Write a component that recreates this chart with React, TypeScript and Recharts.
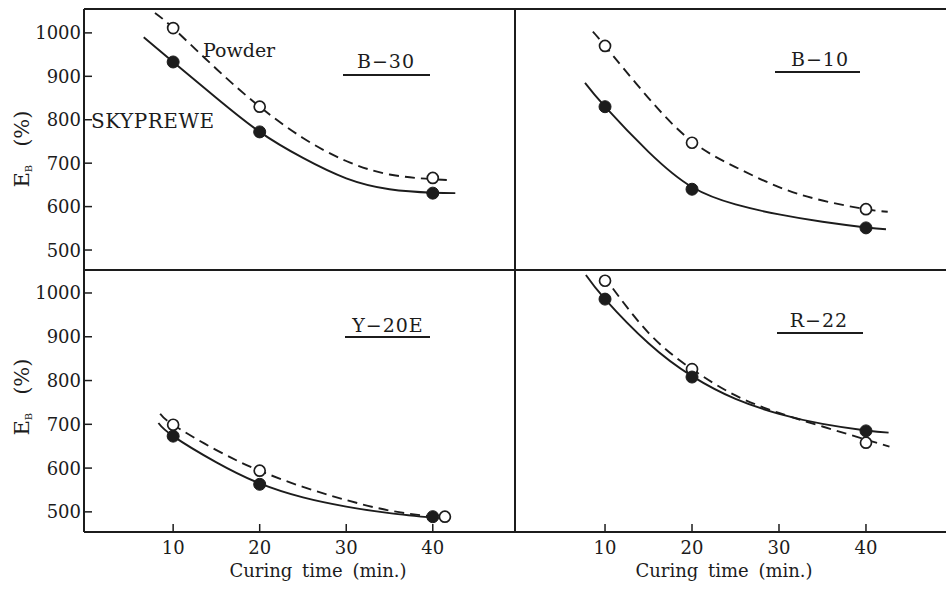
import React from 'react';
import { ComposedChart, Line, Scatter, XAxis, YAxis, ReferenceLine } from 'recharts';

const INK = '#1c1c1c';
const FONT = '"DejaVu Serif", "Liberation Serif", serif';

const xTicks = [10, 20, 30, 40];
const yTicks = [500, 600, 700, 800, 900, 1000];

// ---- B-30 ----
const b30SkyCurve = [
  { x: 6.6, y: 990 }, { x: 10, y: 933 }, { x: 15, y: 850 }, { x: 20, y: 772 },
  { x: 25, y: 712 }, { x: 30, y: 665 }, { x: 35, y: 640 }, { x: 40, y: 632 }, { x: 42.6, y: 631 },
];
const b30PowderCurve = [
  { x: 7.9, y: 1046 }, { x: 10, y: 1011 }, { x: 15, y: 917 }, { x: 20, y: 830 },
  { x: 25, y: 758 }, { x: 30, y: 705 }, { x: 35, y: 674 }, { x: 40, y: 663 }, { x: 42.2, y: 661 },
];
const b30SkyPoints = [{ x: 10, y: 933 }, { x: 20, y: 772 }, { x: 40, y: 631 }];
const b30PowderPoints = [{ x: 10, y: 1011 }, { x: 20, y: 830 }, { x: 40, y: 666 }];

// ---- B-10 ----
const b10SkyCurve = [
  { x: 7.7, y: 885 }, { x: 10, y: 830 }, { x: 15, y: 726 }, { x: 20, y: 645 },
  { x: 25, y: 605 }, { x: 30, y: 582 }, { x: 35, y: 565 }, { x: 40, y: 552 }, { x: 42.3, y: 548 },
];
const b10PowderCurve = [
  { x: 8.6, y: 1003 }, { x: 10, y: 970 }, { x: 15, y: 850 }, { x: 20, y: 750 },
  { x: 25, y: 691 }, { x: 30, y: 645 }, { x: 35, y: 614 }, { x: 40, y: 594 }, { x: 42.5, y: 588 },
];
const b10SkyPoints = [{ x: 10, y: 830 }, { x: 20, y: 640 }, { x: 40, y: 551 }];
const b10PowderPoints = [{ x: 10, y: 970 }, { x: 20, y: 747 }, { x: 40, y: 594 }];

// ---- Y-20E ----
const y20SkyCurve = [
  { x: 8.3, y: 703 }, { x: 10, y: 673 }, { x: 15, y: 613 }, { x: 20, y: 565 },
  { x: 25, y: 533 }, { x: 30, y: 512 }, { x: 35, y: 497 }, { x: 40.3, y: 486 },
];
const y20PowderCurve = [
  { x: 8.5, y: 724 }, { x: 10, y: 699 }, { x: 15, y: 641 }, { x: 20, y: 594 },
  { x: 25, y: 557 }, { x: 30, y: 527 }, { x: 35, y: 503 }, { x: 40, y: 489 },
];
const y20SkyPoints = [{ x: 10, y: 673 }, { x: 20, y: 563 }, { x: 40, y: 489 }];
const y20PowderPoints = [{ x: 10, y: 699 }, { x: 20, y: 594 }, { x: 41.4, y: 489 }];

// ---- R-22 ----
const r22SkyCurve = [
  { x: 7.8, y: 1041 }, { x: 10, y: 986 }, { x: 15, y: 885 }, { x: 20, y: 810 },
  { x: 25, y: 758 }, { x: 30, y: 724 }, { x: 35, y: 701 }, { x: 40, y: 686 }, { x: 42.6, y: 681 },
];
const r22PowderCurve = [
  { x: 9.8, y: 1040 }, { x: 15, y: 909 }, { x: 20, y: 826 },
  { x: 25, y: 766 }, { x: 30, y: 726 }, { x: 35, y: 695 }, { x: 40, y: 665 }, { x: 42.7, y: 649 },
];
const r22SkyPoints = [{ x: 10, y: 986 }, { x: 20, y: 808 }, { x: 40, y: 685 }];
const r22PowderPoints = [{ x: 10, y: 1028 }, { x: 20, y: 826 }, { x: 40, y: 658 }];

const panelTitles = ['B\u221230', 'B\u221210', 'Y\u221220E', 'R\u221222'];
const seriesNames = ['SKYPREWE', 'Powder'];
const xAxisTitle = 'Curing time  (min.)';

const YTick = (props: any) => {
  const { x, y, payload } = props;
  return (
    <g>
      <line x1={x + 3} x2={x + 11} y1={y} y2={y} stroke={INK} strokeWidth={1.5} />
      <text x={x} y={y} dy={6.5} textAnchor="end" fontFamily={FONT} fontSize={18} fill={INK}>
        {payload.value}
      </text>
    </g>
  );
};

const XTick = (props: any) => {
  const { x, y, payload } = props;
  return (
    <g>
      <line x1={x} x2={x} y1={y} y2={y - 8} stroke={INK} strokeWidth={1.5} />
      <text x={x} y={y + 22} textAnchor="middle" fontFamily={FONT} fontSize={18} fill={INK}>
        {payload.value}
      </text>
    </g>
  );
};

const FilledDot = (props: any) => {
  const { cx, cy } = props;
  return <circle cx={cx} cy={cy} r={6} fill={INK} stroke={INK} strokeWidth={1} />;
};
const OpenDot = (props: any) => {
  const { cx, cy } = props;
  return <circle cx={cx} cy={cy} r={5.5} fill="#fff" stroke={INK} strokeWidth={1.7} />;
};

type PanelProps = {
  left: number; top: number; width: number; height: number;
  margin: any; xDomain: [number, number]; yDomain: [number, number];
  showY: boolean; showX: boolean; rightBorder: boolean;
  skyCurve: any[]; powderCurve: any[]; skyPoints: any[]; powderPoints: any[];
};

const Panel = (p: PanelProps) => (
  <div style={{ position: 'absolute', left: p.left, top: p.top }}>
    <ComposedChart width={p.width} height={p.height} margin={p.margin}>
      <XAxis
        type="number" dataKey="x" domain={p.xDomain} ticks={xTicks} allowDataOverflow
        hide={!p.showX} height={57} tickSize={0} tickMargin={0} tickLine={false}
        axisLine={{ stroke: INK, strokeWidth: 2 }} tick={<XTick />} interval={0}
      />
      <YAxis
        type="number" dataKey="y" domain={p.yDomain} ticks={yTicks} allowDataOverflow
        hide={!p.showY} width={84} tickSize={0} tickMargin={3} tickLine={false}
        axisLine={{ stroke: INK, strokeWidth: 2 }} tick={<YTick />} interval={0}
      />
      <ReferenceLine y={p.yDomain[1]} stroke={INK} strokeWidth={2} />
      {!p.showX && <ReferenceLine y={p.yDomain[0]} stroke={INK} strokeWidth={2} />}
      {p.rightBorder && <ReferenceLine x={p.xDomain[1]} stroke={INK} strokeWidth={2} />}
      <Line data={p.skyCurve} dataKey="y" type="natural" stroke={INK} strokeWidth={1.9}
        dot={false} isAnimationActive={false} name={seriesNames[0]} />
      <Line data={p.powderCurve} dataKey="y" type="natural" stroke={INK} strokeWidth={1.9}
        strokeDasharray="10 6" dot={false} isAnimationActive={false} name={seriesNames[1]} />
      <Scatter data={p.powderPoints} dataKey="y" shape={<OpenDot />} isAnimationActive={false} />
      <Scatter data={p.skyPoints} dataKey="y" shape={<FilledDot />} isAnimationActive={false} />
    </ComposedChart>
  </div>
);

const Title = ({ text, cx, base, x1, x2, uy }: any) => (
  <g>
    <text x={cx} y={base} textAnchor="middle" fontFamily={FONT} fontSize={19} letterSpacing={1} fill={INK}>{text}</text>
    <line x1={x1} x2={x2} y1={uy} y2={uy} stroke={INK} strokeWidth={2} />
  </g>
);

const YLabel = ({ cx, cy }: any) => (
  <text transform={`translate(${cx},${cy}) rotate(-90)`} textAnchor="middle" fontFamily={FONT} fontSize={21} fill={INK}>
    E<tspan fontSize={10} dy={3}>B</tspan><tspan dy={-3} dx={18}>(%)</tspan>
  </text>
);

export default function App() {
  const leftX: [number, number] = [-0.3, 49.5];
  const rightX: [number, number] = [-0.35, 49.2];
  const topY: [number, number] = [454, 1055];
  const botY: [number, number] = [454, 1052.5];
  return (
    <div style={{ position: 'absolute', left: 0, top: 0, width: 946, height: 589, background: '#fff', overflow: 'hidden' }}>
      <Panel left={0} top={0} width={517} height={272} margin={{ top: 9, right: 2, bottom: 2, left: 0 }}
        xDomain={leftX} yDomain={topY} showY showX={false} rightBorder
        skyCurve={b30SkyCurve} powderCurve={b30PowderCurve} skyPoints={b30SkyPoints} powderPoints={b30PowderPoints} />
      <Panel left={0} top={268} width={517} height={321} margin={{ top: 2, right: 2, bottom: 0, left: 0 }}
        xDomain={leftX} yDomain={botY} showY showX rightBorder
        skyCurve={y20SkyCurve} powderCurve={y20PowderCurve} skyPoints={y20SkyPoints} powderPoints={y20PowderPoints} />
      <Panel left={515} top={0} width={431} height={272} margin={{ top: 9, right: 0, bottom: 2, left: 0 }}
        xDomain={rightX} yDomain={topY} showY={false} showX={false} rightBorder={false}
        skyCurve={b10SkyCurve} powderCurve={b10PowderCurve} skyPoints={b10SkyPoints} powderPoints={b10PowderPoints} />
      <Panel left={515} top={268} width={431} height={321} margin={{ top: 2, right: 0, bottom: 0, left: 0 }}
        xDomain={rightX} yDomain={botY} showY={false} showX rightBorder={false}
        skyCurve={r22SkyCurve} powderCurve={r22PowderCurve} skyPoints={r22SkyPoints} powderPoints={r22PowderPoints} />
      <svg width={946} height={589} style={{ position: 'absolute', left: 0, top: 0, pointerEvents: 'none' }}>
        <Title text={panelTitles[0]} cx={386} base={68} x1={343} x2={430} uy={75} />
        <Title text={panelTitles[1]} cx={820} base={66} x1={775} x2={860} uy={72} />
        <Title text={panelTitles[2]} cx={388} base={332} x1={345} x2={430} uy={337} />
        <Title text={panelTitles[3]} cx={819} base={327} x1={777} x2={863} uy={333} />
        <text x={203} y={57} fontFamily={FONT} fontSize={19} fill={INK}>{seriesNames[1]}</text>
        <text x={91} y={128} fontFamily={FONT} fontSize={20} letterSpacing={0.5} fill={INK}>{seriesNames[0]}</text>
        <YLabel cx={29} cy={149} />
        <YLabel cx={29} cy={397} />
        <text x={318} y={577} textAnchor="middle" fontFamily={FONT} fontSize={18} wordSpacing={4} fill={INK}>{xAxisTitle}</text>
        <text x={724} y={577} textAnchor="middle" fontFamily={FONT} fontSize={18} wordSpacing={4} fill={INK}>{xAxisTitle}</text>
      </svg>
    </div>
  );
}
